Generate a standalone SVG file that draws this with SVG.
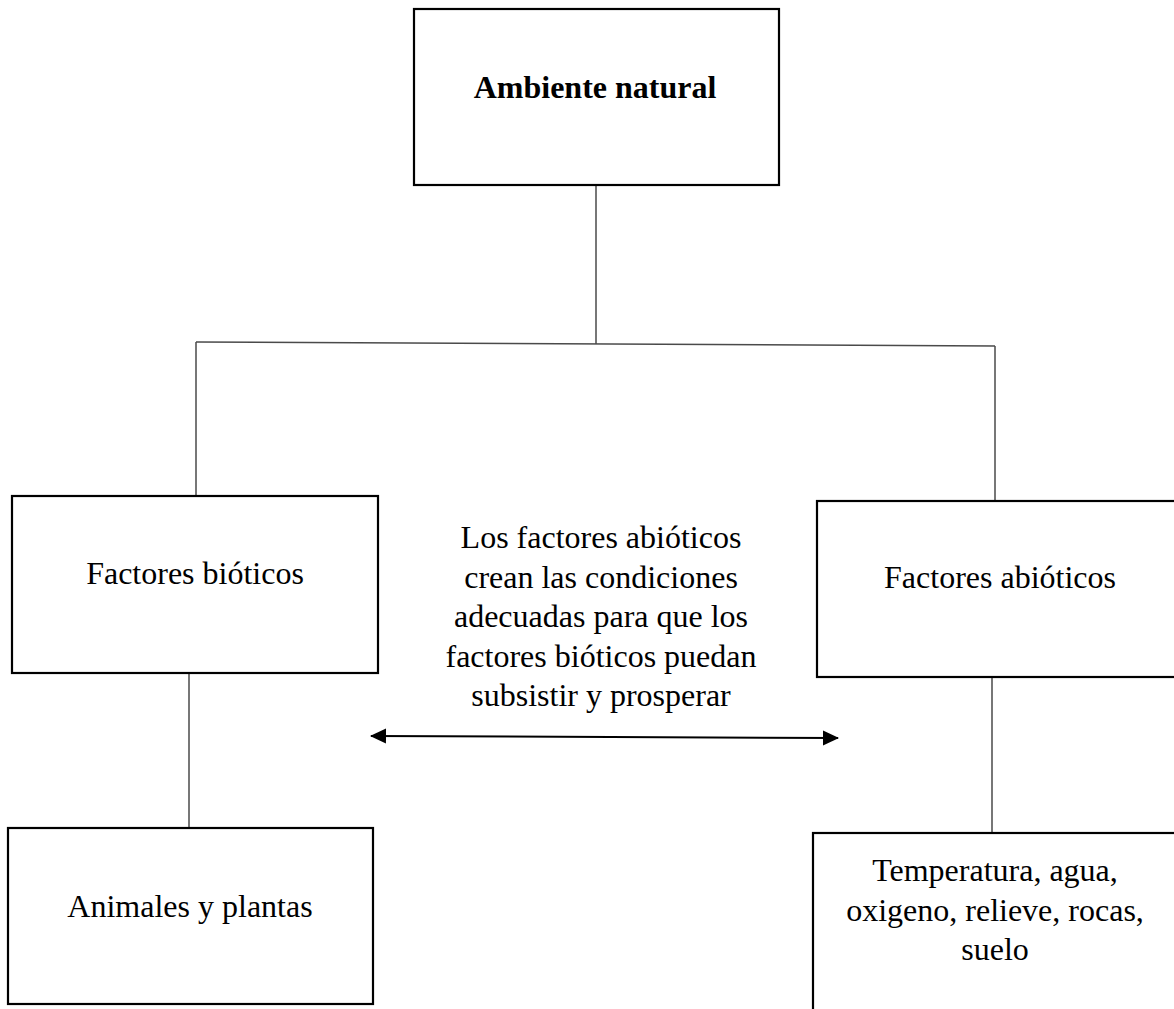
<svg xmlns="http://www.w3.org/2000/svg" width="1174" height="1009" viewBox="0 0 1174 1009">
  <style>
    .box { fill: #ffffff; stroke: #000000; stroke-width: 2.2; }
    .link { fill: none; stroke: #4a4a4a; stroke-width: 1.5; }
    .arrow { fill: none; stroke: #000000; stroke-width: 2; }
    .label { font-family: "Liberation Serif", "Times New Roman", serif; font-size: 32px; fill: #000000; text-anchor: middle; }
    .title { font-weight: bold; }
  </style>
  <defs>
    <marker id="head" viewBox="0 0 16 16" refX="15" refY="8" markerWidth="16" markerHeight="16" markerUnits="userSpaceOnUse" orient="auto-start-reverse">
      <path d="M0,0.5 L16,8 L0,15.5 Z" fill="#000000"/>
    </marker>
  </defs>

  <rect width="1174" height="1009" fill="#ffffff"/>

  <!-- connectors -->
  <g id="connectors">
    <line class="link" x1="596" y1="186" x2="596" y2="344"/>
    <line class="link" x1="196" y1="342" x2="995" y2="346"/>
    <line class="link" x1="196" y1="342" x2="196" y2="496"/>
    <line class="link" x1="995" y1="346" x2="995" y2="501"/>
    <line class="link" x1="189" y1="674" x2="189" y2="828"/>
    <line class="link" x1="992" y1="678" x2="992" y2="833"/>
    <line class="arrow" x1="371" y1="736" x2="838" y2="738" marker-start="url(#head)" marker-end="url(#head)"/>
  </g>

  <!-- root -->
  <g id="ambiente-natural">
    <rect class="box" x="414" y="9" width="365" height="176"/>
    <text class="label title" x="595" y="98">Ambiente natural</text>
  </g>

  <g id="factores-bioticos">
    <rect class="box" x="12" y="496" width="366" height="177"/>
    <text class="label" x="195" y="584">Factores bióticos</text>
  </g>

  <g id="factores-abioticos">
    <rect class="box" x="817" y="501" width="366" height="176"/>
    <text class="label" x="1000" y="588">Factores abióticos</text>
  </g>

  <g id="animales-plantas">
    <rect class="box" x="8" y="828" width="365" height="176"/>
    <text class="label" x="190" y="917">Animales y plantas</text>
  </g>

  <g id="elementos-abioticos">
    <rect class="box" x="813" y="833" width="366" height="190"/>
    <text class="label" x="995" y="881">Temperatura, agua,</text>
    <text class="label" x="995" y="920.5">oxigeno, relieve, rocas,</text>
    <text class="label" x="995" y="960">suelo</text>
  </g>

  <!-- relation note between the two factor groups -->
  <g id="relacion">
    <text class="label" x="601" y="548">Los factores abióticos</text>
    <text class="label" x="601" y="587.5">crean las condiciones</text>
    <text class="label" x="601" y="627">adecuadas para que los</text>
    <text class="label" x="601" y="666.5">factores bióticos puedan</text>
    <text class="label" x="601" y="706">subsistir y prosperar</text>
  </g>
</svg>
